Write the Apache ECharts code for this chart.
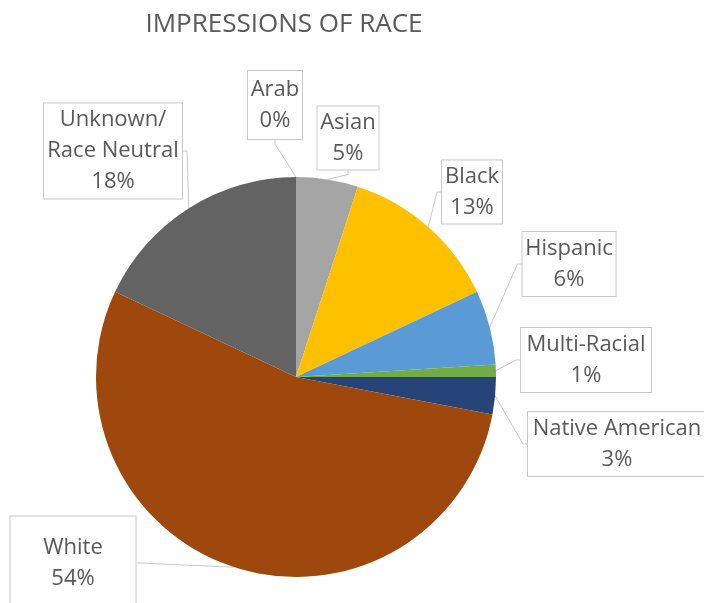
<!DOCTYPE html>
<html>
<head>
<meta charset="utf-8">
<script src="https://cdn.jsdelivr.net/npm/echarts@6/dist/echarts.min.js"></script>
<style>
  html, body { margin: 0; padding: 0; background: #fff; }
  #chart { width: 704px; height: 603px; }
</style>
</head>
<body>
<div id="chart"></div>
<script>
// Share of each perceived race (percent)
const categories = ['Arab', 'Asian', 'Black', 'Hispanic', 'Multi-Racial', 'Native American', 'White', 'Unknown/\nRace Neutral'];
const shares = [0, 5, 13, 6, 1, 3, 54, 18];
const sliceColors = ['#ed7d31', '#a5a5a5', '#ffc000', '#5b9bd5', '#70ad47', '#264478', '#9e480e', '#636363'];

// Callout boxes: centre and size for each label
const callouts = [
  { cx: 275, cy: 105, w: 56,  h: 70 },
  { cx: 348, cy: 138, w: 63,  h: 65 },
  { cx: 472, cy: 192, w: 62,  h: 65 },
  { cx: 569, cy: 264, w: 95,  h: 66 },
  { cx: 586, cy: 360, w: 132, h: 66 },
  { cx: 617, cy: 444, w: 180, h: 66 },
  { cx: 73,  cy: 563, w: 127, h: 95 },
  { cx: 113, cy: 151, w: 140, h: 97 }
];

const FONT = 'Open Sans';
const chart = echarts.init(document.getElementById('chart'));

chart.setOption({
  animation: false,
  title: {
    text: 'IMPRESSIONS OF RACE',
    left: 279,
    top: 7,
    textAlign: 'center',
    textStyle: { fontFamily: FONT, fontSize: 26, fontWeight: 'normal', color: '#595959' }
  },
  series: [{
    type: 'pie',
    center: [296, 377],
    radius: 200,
    startAngle: 90,
    clockwise: true,
    minAngle: 0,
    avoidLabelOverlap: false,
    data: categories.map((name, i) => ({
      name: name,
      value: shares[i],
      itemStyle: { color: sliceColors[i] },
      label: {
        width: callouts[i].w - 2,
        height: callouts[i].h - 2
      }
    })),
    itemStyle: { borderColor: '#fff', borderWidth: 0 },
    label: {
      show: true,
      position: 'outside',
      formatter: p => p.name + '\n' + p.value + '%',
      fontFamily: FONT,
      fontSize: 22,
      lineHeight: 31,
      color: '#595959',
      align: 'center',
      verticalAlign: 'middle',
      backgroundColor: '#fff',
      borderColor: '#c8c8c8',
      borderWidth: 1,
      padding: 0
    },
    labelLine: {
      show: true,
      length: 4,
      length2: 4,
      lineStyle: { color: '#c8c8c8', width: 1 }
    },
    labelLayout: function (params) {
      const c = callouts[params.dataIndex];
      return {
        x: c.cx,
        y: c.cy,
        align: 'center',
        verticalAlign: 'middle'
      };
    }
  }]
});
</script>
</body>
</html>
